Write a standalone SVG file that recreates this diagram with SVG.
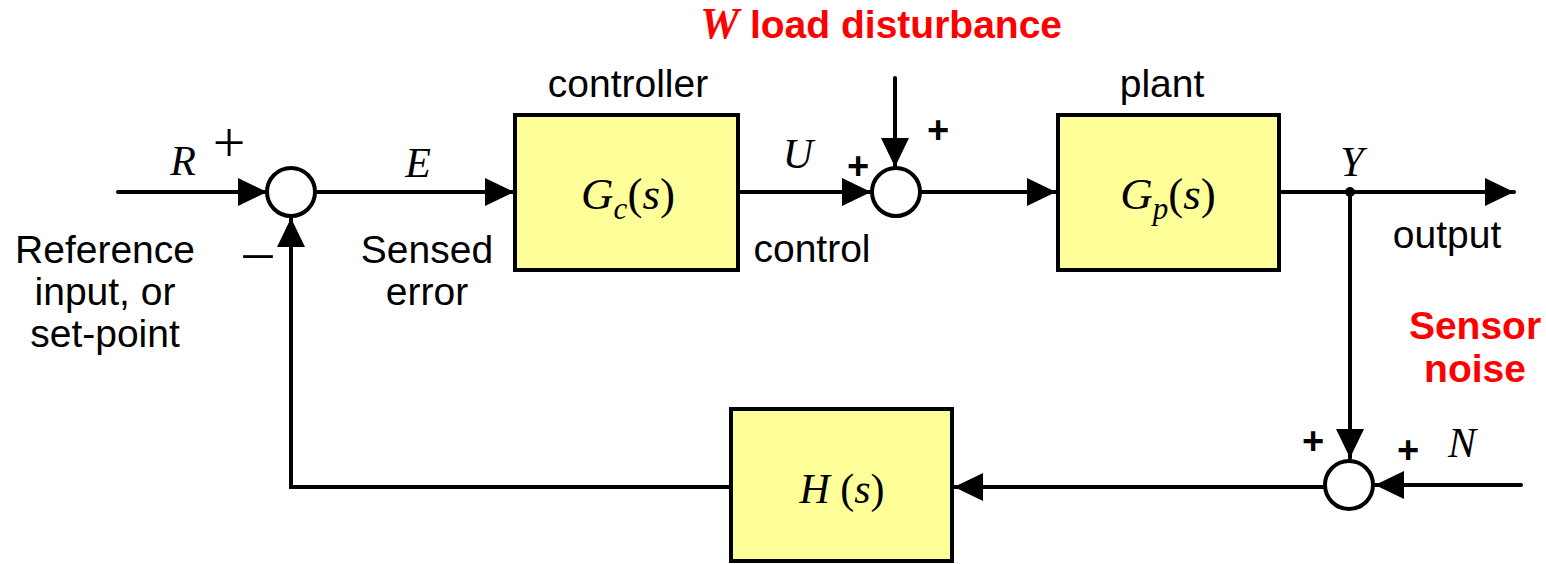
<svg xmlns="http://www.w3.org/2000/svg" width="1546" height="564" viewBox="0 0 1546 564">
<style>
.blk{fill:#FFFF99;stroke:#000;stroke-width:4}
.sum{fill:#fff;stroke:#000;stroke-width:4}
.ln{fill:none;stroke:#000;stroke-width:4;stroke-linecap:round}
.sans{font-family:"Liberation Sans",Arial,sans-serif;font-size:39px;fill:#000}
.it{font-family:"Liberation Serif","Times New Roman",serif;font-style:italic;font-size:42px;fill:#000}
.tf{font-size:45px}
.up{font-style:normal}
.sub{font-size:31px}
.pl{font-family:"Liberation Sans",Arial,sans-serif;font-weight:bold;font-size:38px;fill:#000}
.tp{font-family:"Liberation Serif","Times New Roman",serif;font-size:58px;fill:#000}
.red{font-family:"Liberation Sans",Arial,sans-serif;font-weight:bold;font-size:39px;fill:#FF0000}
</style>
<defs>
<marker id="ah" markerUnits="userSpaceOnUse" markerWidth="30" markerHeight="30" viewBox="0 0 30 30" refX="29" refY="15" orient="auto">
<path d="M0,1 L29,15 L0,29 Z" fill="#000"/>
</marker>
</defs>
<g id="connectors">
<line class="ln" x1="118" y1="192" x2="267" y2="192" marker-end="url(#ah)"/>
<line class="ln" x1="316" y1="192" x2="514" y2="192" marker-end="url(#ah)"/>
<line class="ln" x1="739" y1="192" x2="871" y2="192" marker-end="url(#ah)"/>
<line class="ln" x1="895" y1="78" x2="895" y2="167" marker-end="url(#ah)"/>
<line class="ln" x1="920" y1="192" x2="1056" y2="192" marker-end="url(#ah)"/>
<line class="ln" x1="1280" y1="192" x2="1514" y2="192" marker-end="url(#ah)"/>
<line class="ln" x1="1350" y1="192" x2="1350" y2="458" marker-end="url(#ah)"/>
<circle cx="1350" cy="192" r="5" fill="#000"/>
<line class="ln" x1="1521" y1="485" x2="1375" y2="485" marker-end="url(#ah)"/>
<line class="ln" x1="1325" y1="487" x2="954" y2="487" marker-end="url(#ah)"/>
<polyline class="ln" points="730,487 291,487 291,218" marker-end="url(#ah)"/>
</g>
<g id="sum1"><circle class="sum" cx="291" cy="192" r="24"/></g>
<g id="sum2"><circle class="sum" cx="896" cy="192" r="24"/></g>
<g id="sum3"><circle class="sum" cx="1349" cy="485" r="24"/></g>
<g id="controller">
<rect class="blk" x="515" y="115" width="223" height="155"/>
<text class="it tf" x="628" y="209" text-anchor="middle">G<tspan class="sub" dy="10">c</tspan><tspan class="up" dy="-10">(</tspan>s<tspan class="up">)</tspan></text>
<text class="sans" x="628" y="97" text-anchor="middle">controller</text>
</g>
<g id="plant">
<rect class="blk" x="1058" y="115" width="221" height="155"/>
<text class="it tf" x="1168" y="209" text-anchor="middle">G<tspan class="sub" dy="10">p</tspan><tspan class="up" dy="-10">(</tspan>s<tspan class="up">)</tspan></text>
<text class="sans" x="1162" y="97" text-anchor="middle">plant</text>
</g>
<g id="feedback">
<rect class="blk" x="731" y="409" width="221" height="152"/>
<text class="it" x="842" y="503" text-anchor="middle" font-size="47">H<tspan class="up"> (</tspan>s<tspan class="up">)</tspan></text>
</g>
<g id="labels">
<text class="it" x="183" y="175" text-anchor="middle">R</text>
<text class="tp" x="229" y="162" text-anchor="middle">+</text>
<text class="tp" x="258" y="270" text-anchor="middle">–</text>
<text class="it" x="418" y="177" text-anchor="middle">E</text>
<text class="sans" text-anchor="middle"><tspan x="105" y="263">Reference</tspan><tspan x="105" y="305">input, or</tspan><tspan x="105" y="347">set-point</tspan></text>
<text class="sans" text-anchor="middle"><tspan x="427" y="263">Sensed</tspan><tspan x="427" y="305">error</tspan></text>
<text class="it" x="798" y="168" text-anchor="middle">U</text>
<text class="pl" x="858" y="179" text-anchor="middle">+</text>
<text class="pl" x="938" y="143" text-anchor="middle">+</text>
<text class="sans" x="812" y="262" text-anchor="middle">control</text>
<text class="red" x="700" y="38"><tspan font-family="Liberation Serif,Times New Roman,serif" font-style="italic" font-size="44">W</tspan> load disturbance</text>
<text class="it" x="1352" y="176" text-anchor="middle">Y</text>
<text class="sans" x="1447" y="248" text-anchor="middle">output</text>
<text class="red" text-anchor="middle"><tspan x="1475" y="339">Sensor</tspan><tspan x="1475" y="382">noise</tspan></text>
<text class="pl" x="1313" y="454" text-anchor="middle">+</text>
<text class="pl" x="1408" y="463" text-anchor="middle">+</text>
<text class="it" x="1462" y="457" text-anchor="middle">N</text>
</g>
</svg>
